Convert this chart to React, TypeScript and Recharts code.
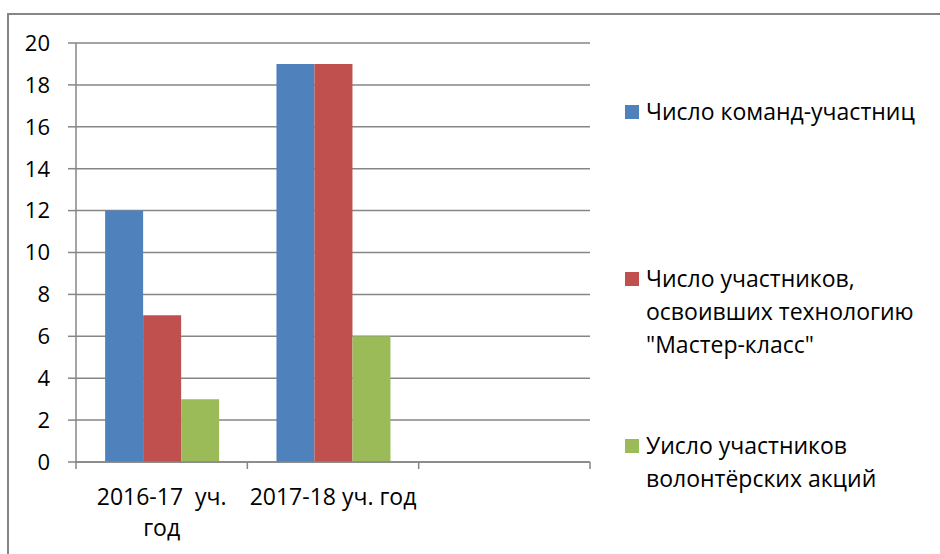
import React from "react";
import { BarChart, Bar, XAxis, YAxis, CartesianGrid, Legend } from "recharts";

const categories = ["2016-17  уч. год", "2017-18 уч. год", ""];
const xTickLines = [["2016-17  уч.", "год"], ["2017-18 уч. год"], []];
const seriesNames = [
  "Число команд-участниц",
  "Число участников, освоивших технологию \"Мастер-класс\"",
  "Уисло участников волонтёрских акций",
];
const teams = [12, 19, null];
const masterClass = [7, 19, null];
const volunteers = [3, 6, null];
const yTicks = [0, 2, 4, 6, 8, 10, 12, 14, 16, 18, 20];
const colors = ["#4F81BD", "#C0504D", "#9BBB59"];

const data = categories.map((c, i) => ({
  cat: c,
  s0: teams[i],
  s1: masterClass[i],
  s2: volunteers[i],
}));

const FONT = "'Open Sans', sans-serif";
const GRID = "#868686";
const W = 940;
const H = 554;
const M = { top: 43, right: 350, bottom: 0, left: 0 };
const Y_AXIS_W = 76;
const X_AXIS_H = 92;
const PLOT_W = W - M.left - M.right - Y_AXIS_W;

const XTick = (props: any) => {
  const { x, y, payload, index } = props;
  const half = payload && typeof payload.offset === "number" && payload.offset > 0 ? payload.offset : PLOT_W / categories.length / 2;
  const axisY = y - 7 - 4;
  const lines = xTickLines[index] || [];
  return (
    <g>
      <line x1={x - half} x2={x - half} y1={axisY} y2={axisY + 7} stroke={GRID} strokeWidth={1.5} />
      {index === categories.length - 1 && (
        <line x1={x + half} x2={x + half} y1={axisY} y2={axisY + 7} stroke={GRID} strokeWidth={1.5} />
      )}
      {lines.map((ln, k) => (
        <text
          key={k}
          x={x}
          y={axisY + 43 + k * 31}
          textAnchor="middle"
          fill="#000"
          style={{ fontFamily: FONT, fontSize: 23, whiteSpace: "pre" }}
        >
          {ln}
        </text>
      ))}
    </g>
  );
};

const LegendContent = () => (
  <div style={{ fontFamily: FONT, fontSize: 23, color: "#000" }}>
    {seriesNames.map((n, i) => (
      <div key={i} style={{ display: "flex", alignItems: "flex-start", height: 167 }}>
        <div style={{ width: 14, height: 14, background: colors[i], marginTop: 10, marginRight: 7, flex: "none" }} />
        <div style={{ width: 292, lineHeight: "33px" }}>{n}</div>
      </div>
    ))}
  </div>
);

export default function App() {
  return (
    <div style={{ position: "absolute", left: 0, top: 0, width: W, height: H, overflow: "hidden", background: "#fff" }}>
      <div
        style={{
          position: "absolute",
          left: 7,
          top: 13,
          width: 1000,
          height: 1000,
          border: `2px solid ${GRID}`,
        }}
      />
      <BarChart
        width={W}
        height={H}
        data={data}
        margin={M}
        barCategoryGap="17%"
        barGap={0}
        style={{ position: "absolute", left: 0, top: 0 }}
      >
        <CartesianGrid vertical={false} stroke={GRID} strokeWidth={1.5} />
        <XAxis
          dataKey="cat"
          height={X_AXIS_H}
          interval={0}
          tickLine={false}
          axisLine={{ stroke: GRID, strokeWidth: 1.5 }}
          tickSize={7}
          tickMargin={4}
          tick={<XTick />}
        />
        <YAxis
          width={Y_AXIS_W}
          domain={[0, 20]}
          ticks={yTicks}
          interval={0}
          tickSize={8}
          tickMargin={18}
          axisLine={{ stroke: GRID, strokeWidth: 1.5 }}
          tickLine={{ stroke: GRID, strokeWidth: 1.5 }}
          tick={{ fill: "#000", fontFamily: FONT, fontSize: 22 }}
        />
        <Legend
          layout="vertical"
          align="center"
          verticalAlign="middle"
          wrapperStyle={{ left: 625, top: 95, width: 315 }}
          content={<LegendContent />}
        />
        <Bar dataKey="s0" name={seriesNames[0]} fill={colors[0]} isAnimationActive={false} />
        <Bar dataKey="s1" name={seriesNames[1]} fill={colors[1]} isAnimationActive={false} />
        <Bar dataKey="s2" name={seriesNames[2]} fill={colors[2]} isAnimationActive={false} />
      </BarChart>
    </div>
  );
}
